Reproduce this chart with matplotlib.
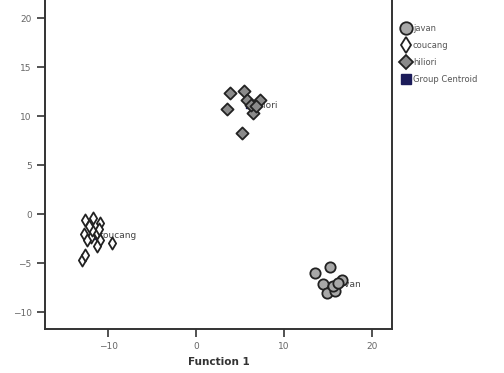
import matplotlib
matplotlib.use("Agg")
import matplotlib.pyplot as plt
from matplotlib.lines import Line2D

# discriminant scores (Function 1, Function 2)
javan_x = [13.5, 15.2, 14.4, 14.9, 15.8, 16.6, 15.6, 16.2]
javan_y = [-6.0, -5.4, -7.1, -8.1, -7.9, -6.7, -7.3, -7.0]

coucang_x = [-12.6, -11.7, -10.9, -12.8, -12.0, -11.3, -10.9, -11.3, -9.6, -12.4, -11.8, -13.0, -12.6, -11.0, -12.2]
coucang_y = [-0.6, -0.4, -0.9, -2.0, -2.3, -1.9, -2.7, -3.3, -3.0, -2.7, -1.6, -4.7, -4.2, -1.5, -1.2]

hiliori_x = [3.9, 5.4, 3.5, 5.2, 6.5, 5.8, 7.3, 6.3, 6.8]
hiliori_y = [12.3, 12.6, 10.7, 8.3, 10.3, 11.6, 11.6, 11.1, 11.0]

groups = ["javan", "coucang", "hiliori"]
centroid_x = [15.5, -11.5, 6.0]
centroid_y = [-7.2, -2.2, 11.1]

fig = plt.figure(figsize=(5.04, 3.73), dpi=100)
ax = fig.add_axes([0.089, 0.118, 0.689, 0.882])

# centroid labels sit under the markers, like in the SPSS output
for name, cx, cy in zip(groups, centroid_x, centroid_y):
    ax.text(cx + 0.4, cy, name, fontsize=6.5, color="#444444", va="center", ha="left", zorder=1)

ax.scatter(centroid_x, centroid_y, marker="s", s=25, color="#1c1c5a", zorder=2)

ax.scatter(javan_x, javan_y, marker="o", s=55, facecolor="#a8a8a8", edgecolor="#222222", linewidth=1.3, zorder=3)
ax.scatter(coucang_x, coucang_y, marker="d", s=38, facecolor="white", edgecolor="#222222", linewidth=1.3, zorder=3)
ax.scatter(hiliori_x, hiliori_y, marker="D", s=38, facecolor="#8a8a8a", edgecolor="#222222", linewidth=1.3, zorder=3)

ax.set_xlim(-17.2, 22.3)
ax.set_ylim(-11.73, 21.84)
ax.set_xticks([-10, 0, 10, 20])
ax.set_yticks([-10, -5, 0, 5, 10, 15, 20])
ax.tick_params(direction="out", length=6, width=1.2, labelsize=6.5, labelcolor="#666666", color="#333333")
ax.spines["top"].set_visible(False)
for s in ["left", "right", "bottom"]:
    ax.spines[s].set_linewidth(1.4)
    ax.spines[s].set_color("#333333")
ax.set_xlabel("Function 1", fontsize=7.5, fontweight="bold", color="#333333", labelpad=4)

# legend outside, to the right
handles = [
    Line2D([], [], marker="o", ls="", ms=9, mfc="#a8a8a8", mec="#222222", mew=1.3),
    Line2D([], [], marker="d", ls="", ms=8, mfc="white", mec="#222222", mew=1.3),
    Line2D([], [], marker="D", ls="", ms=7, mfc="#8a8a8a", mec="#222222", mew=1.3),
    Line2D([], [], marker="s", ls="", ms=7, mfc="#1c1c5a", mec="#1c1c5a"),
]
fig.legend(handles, groups + ["Group Centroid"], loc="upper left", bbox_to_anchor=(0.778, 0.955),
           frameon=False, fontsize=6, handletextpad=0.1, labelspacing=0.95, handlelength=1.5,
           labelcolor="#555555")

fig.savefig("out.png", dpi=100)
